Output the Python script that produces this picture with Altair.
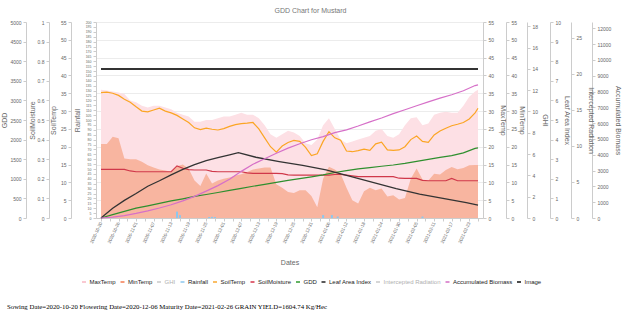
import altair as alt
import pandas as pd

TITLE = "GDD Chart for Mustard"
FOOTER = ("Sowing Date=2020-10-20 Flowering Date=2020-12-06 "
          "Maturity Date=2021-02-26 GRAIN YIELD=1604.74 Kg/Hec")

START, LAST, END = "2020-10-20", "2021-02-25", "2021-02-26"


def fmt(ix):
    return [d.strftime("%Y-%m-%d") for d in ix]


DATES_2D = fmt(pd.date_range(START, LAST, freq="2D")) + [END]
DATES_4D = fmt(pd.date_range(START, LAST, freq="4D")) + [END]
TICK_DATES = fmt(pd.date_range(START, END, freq="3D"))

MAX_TEMP = [36.0, 35.8, 35.5, 35.2, 34.8, 33.0, 32.5, 31.5, 31.0, 31.5,
            31.5, 31.0, 30.5, 29.5, 29.0, 28.5, 27.0, 27.0, 27.5, 27.5,
            28.0, 28.5, 28.5, 29.0, 29.5, 29.0, 29.0, 28.0, 26.0, 23.5,
            22.5, 23.5, 24.5, 24.0, 23.0, 21.0, 20.5, 22.0, 26.0, 28.0,
            25.0, 22.0, 21.0, 21.5, 22.0, 22.5, 23.0, 24.5, 25.0, 23.0,
            22.5, 23.5, 26.0, 28.0, 28.3, 26.0, 26.5, 29.0, 29.5, 29.8,
            29.5, 29.5, 31.5, 34.0, 35.5, 36.0]
MIN_TEMP = [20.8, 20.8, 22.8, 22.4, 16.7, 16.5, 16.5, 15.8, 14.8, 14.2,
            13.6, 13.3, 13.0, 14.5, 15.0, 13.8, 10.5, 9.0, 12.5, 9.7,
            10.5, 11.0, 11.4, 11.9, 12.3, 12.9, 13.6, 13.9, 14.2, 14.2,
            9.5, 8.5, 7.3, 7.0, 7.8, 7.8, 6.2, 3.0, 11.0, 14.4,
            13.6, 12.4, 8.5, 5.0, 4.1, 7.5, 8.5, 7.8, 8.3, 6.0,
            6.4, 5.2, 5.6, 11.0, 13.9, 10.8, 10.5, 12.4, 12.2, 13.5,
            14.3, 13.7, 14.0, 14.8, 14.9, 14.9]
SOIL_TEMP = [35.2, 35.3, 35.0, 34.4, 33.3, 32.5, 31.2, 30.0, 29.8, 30.3,
             30.8, 30.0, 29.5, 28.8, 27.8, 26.8, 25.3, 24.8, 25.2, 24.9,
             24.7, 25.1, 25.7, 26.2, 26.5, 26.6, 26.8, 25.0, 22.5, 20.0,
             18.5, 20.2, 21.2, 21.8, 21.5, 19.8, 17.5, 18.0, 21.5, 24.2,
             22.5, 21.8, 18.8, 18.6, 18.9, 19.3, 19.0, 20.8, 21.3, 19.1,
             19.0, 19.1, 20.0, 22.0, 23.0, 21.5, 21.2, 23.3, 24.4, 25.2,
             25.9, 26.3, 26.8, 27.8, 29.5, 30.8]
SOIL_MOIST = [0.248, 0.248, 0.248, 0.248, 0.248, 0.240, 0.236, 0.236, 0.236, 0.236,
              0.236, 0.236, 0.236, 0.266, 0.254, 0.247, 0.245, 0.245, 0.245, 0.238,
              0.236, 0.236, 0.236, 0.236, 0.236, 0.230, 0.228, 0.228, 0.228, 0.228,
              0.228, 0.226, 0.220, 0.219, 0.219, 0.219, 0.219, 0.219, 0.219, 0.219,
              0.222, 0.222, 0.219, 0.215, 0.211, 0.211, 0.211, 0.211, 0.211, 0.211,
              0.211, 0.203, 0.202, 0.202, 0.202, 0.192, 0.190, 0.190, 0.190, 0.190,
              0.202, 0.190, 0.190, 0.190, 0.190, 0.190]

GDD = [0, 85, 170, 250, 310, 375, 435, 490, 550, 600,
       650, 705, 757, 810, 860, 910, 960, 1005, 1050, 1100,
       1160, 1210, 1255, 1285, 1320, 1352, 1395, 1445, 1495, 1545,
       1590, 1660, 1775, 1790]
BIOMASS = [0, 60, 150, 290, 450, 630, 840, 1080, 1370, 1700,
           2050, 2450, 2950, 3400, 3750, 4100, 4420, 4700, 4950, 5150,
           5400, 5580, 5820, 6080, 6330, 6600, 6850, 7100, 7350, 7580,
           7800, 8050, 8380, 8420]

LAI_DATES = ["2020-10-20", "2020-10-24", "2020-10-28", "2020-11-01", "2020-11-05",
             "2020-11-09", "2020-11-13", "2020-11-17", "2020-11-21", "2020-11-25",
             "2020-11-29", "2020-12-03", "2020-12-06", "2020-12-12", "2020-12-20",
             "2020-12-28", "2021-01-05", "2021-01-13", "2021-01-21", "2021-01-29",
             "2021-02-06", "2021-02-14", "2021-02-22", "2021-02-26"]
LAI = [0.0, 0.5, 0.9, 1.25, 1.62, 1.9, 2.2, 2.48, 2.72, 2.93,
       3.08, 3.22, 3.33, 3.10, 2.88, 2.68, 2.45, 2.14, 1.82, 1.50,
       1.22, 1.0, 0.78, 0.66]

RAIN_DATES = ["2020-11-15", "2020-11-16", "2020-11-26", "2020-11-27", "2020-11-28",
              "2021-01-04", "2021-01-07", "2021-01-09", "2021-02-07"]
RAIN = [6.5, 3.0, 1.0, 1.2, 1.0, 3.0, 3.0, 1.5, 1.5]

IMAGE_DATES = [START, END]
IMAGE = [41.8, 41.8]

SERIES = ["MaxTemp", "MinTemp", "GHI", "Rainfall", "SoilTemp", "SoilMoisture",
          "GDD", "Leaf Area Index", "Intercepted Radiation", "Accumulated Biomass", "Image"]
LEGEND_COLORS = ["#f9b7c3", "#f47b50", "#c8c8c8", "#8cc7ee", "#f8a832", "#d6334a",
                 "#2f9a2f", "#222222", "#c8c8c8", "#d36ec4", "#111111"]

GDD_TICKS = list(range(0, 5001, 500))
SM_TICKS = [0, 0.1, 0.2, 0.3, 0.4, 0.5, 0.6, 0.7, 0.8, 0.9, 1.0]
TEMP_TICKS = list(range(0, 56, 5))
RAIN_TICKS = list(range(0, 201, 5))
GHI_TICKS = list(range(0, 19, 2))
LAI_TICKS = list(range(0, 11))
IR_TICKS = [0, 5, 10, 15, 20, 25]
BIO_TICKS = list(range(0, 12001, 1000))

FONT = "Liberation Sans"
GREY_TXT = "#666666"
GREY_LINE = "#cccccc"


def dt(s):
    t = pd.Timestamp(s)
    return alt.DateTime(year=t.year, month=t.month, date=t.day, utc=True)


XS = alt.Scale(type="utc", domain=[dt(START), dt(END)])
XA = alt.Axis(title="Dates", values=[dt(d) for d in TICK_DATES], format="%Y-%m-%d",
              labelAngle=-65, labelFontSize=4.5, titleY=40, titleFontSize=7,
              labelColor=GREY_TXT, titleColor=GREY_TXT,
              domainColor=GREY_LINE, tickColor=GREY_LINE, tickSize=3, labelPadding=1)
X = alt.X("date:T", scale=XS, axis=XA)


def ys(lo, hi):
    return alt.Scale(domain=[lo, hi], nice=False, zero=True)


def yax(title, orient, offset, values, tx, **kw):
    return alt.Axis(title=title, orient=orient, offset=offset, values=values,
                    titleX=tx, labelColor=GREY_TXT, titleColor=GREY_TXT,
                    domainColor=GREY_LINE, tickColor=GREY_LINE, **kw)


df2 = pd.DataFrame({"date": DATES_2D, "maxt": MAX_TEMP, "mint": MIN_TEMP,
                    "soilt": SOIL_TEMP, "soilm": SOIL_MOIST})
df4 = pd.DataFrame({"date": DATES_4D, "gdd": GDD, "bio": BIOMASS})
dfl = pd.DataFrame({"date": LAI_DATES, "lai": LAI})
dfr = pd.DataFrame({"date": RAIN_DATES, "rain": RAIN})
dfi = pd.DataFrame({"date": IMAGE_DATES, "img": IMAGE})

max_area = alt.Chart(df2).mark_area(color="#fde0e5").encode(
    x=X, y=alt.Y("maxt:Q", scale=ys(0, 55),
                 axis=yax("MaxTemp", "right", 0, TEMP_TICKS, 16, grid=True,
                          gridColor="#ececec")))
min_area = alt.Chart(df2).mark_area(color="#f8b5a0").encode(
    x=X, y=alt.Y("mint:Q", scale=ys(0, 55),
                 axis=yax("MinTemp", "right", 23, TEMP_TICKS, 12)))
rain = alt.Chart(dfr).mark_bar(size=2, color="#8cc7ee").encode(
    x=X, y=alt.Y("rain:Q", scale=ys(0, 200),
                 axis=yax("Rainfall", "left", 0, RAIN_TICKS, -16,
                          labelOverlap=False, labelFontSize=3.5)))
image = alt.Chart(dfi).mark_line(color="#333333", strokeWidth=2).encode(
    x=X, y=alt.Y("img:Q", scale=ys(0, 55), axis=None))
soil_t = alt.Chart(df2).mark_line(color="#fba524", strokeWidth=1.2).encode(
    x=X, y=alt.Y("soilt:Q", scale=ys(0, 55),
                 axis=yax("SoilTemp", "left", 25, TEMP_TICKS, -15)))
soil_m = alt.Chart(df2).mark_line(color="#d0384a", strokeWidth=1.2).encode(
    x=X, y=alt.Y("soilm:Q", scale=ys(0, 1),
                 axis=yax("SoilMoisture", "left", 47, SM_TICKS, -14, format=".1~f")))
gdd = alt.Chart(df4).mark_line(color="#2e8f2e", strokeWidth=1.2).encode(
    x=X, y=alt.Y("gdd:Q", scale=ys(0, 5000),
                 axis=yax("GDD", "left", 70, GDD_TICKS, -19, format="d")))
lai = alt.Chart(dfl).mark_line(color="#333333", strokeWidth=1.3).encode(
    x=X, y=alt.Y("lai:Q", scale=ys(0, 10),
                 axis=yax("Leaf Area Index", "right", 67, LAI_TICKS, 13)))
bio = alt.Chart(df4).mark_line(color="#d670c8", strokeWidth=1.2).encode(
    x=X, y=alt.Y("bio:Q", scale=ys(0, 12400),
                 axis=yax("Accumulated Biomass", "right", 109, BIO_TICKS, 22, format="d")))
ghi = alt.Chart(pd.DataFrame({"v": [0]})).mark_point(opacity=0).encode(
    y=alt.Y("v:Q", scale=ys(0, 18.4), axis=yax("GHI", "right", 44, GHI_TICKS, 14)))
irad = alt.Chart(pd.DataFrame({"v": [0]})).mark_point(opacity=0).encode(
    y=alt.Y("v:Q", scale=ys(0, 27.2),
            axis=yax("Intercepted Radiation", "right", 88, IR_TICKS, 16)))

legend = alt.Chart(pd.DataFrame({"series": SERIES})).transform_filter("false").mark_line().encode(
    color=alt.Color("series:N", scale=alt.Scale(domain=SERIES, range=LEGEND_COLORS),
                    legend=alt.Legend(
                        title=None, orient="none", legendX=-15, legendY=257,
                        direction="horizontal", columns=11, symbolType="stroke",
                        symbolSize=16, symbolStrokeWidth=1.5, labelFontSize=6.0,
                        labelFont=FONT, columnPadding=1.5, labelOffset=2.5, labelLimit=0,
                        labelColor=alt.ExprRef(
                            "indexof(['GHI','Intercepted Radiation'], datum.label) >= 0 ? '#b0b0b0' : '#222222'"))))

footer = alt.Chart(pd.DataFrame({"t": [FOOTER]})).mark_text(
    align="left", baseline="middle", font="Liberation Serif", fontSize=6.8,
    color="#000000").encode(text="t:N", x=alt.value(-89), y=alt.value(285))

chart = alt.layer(
    max_area, min_area, rain, image, soil_t, soil_m, gdd, lai, bio, ghi, irad,
    legend, footer
).resolve_scale(y="independent").properties(
    width=387, height=196,
    autosize=alt.AutoSizeParams(type="none"),
    padding={"left": 96, "top": 22, "right": 141, "bottom": 111},
    title=alt.TitleParams(TITLE, fontSize=7, color="#777777", font=FONT,
                          fontWeight="normal", anchor="middle", frame="bounds",
                          offset=6),
).configure_view(strokeWidth=0).configure_axis(
    labelColor=GREY_TXT, labelFont=FONT, labelFontSize=5, titleColor=GREY_TXT,
    titleFont=FONT, titleFontSize=7, titleFontWeight="normal", domainColor=GREY_LINE,
    tickColor=GREY_LINE, tickSize=3, labelPadding=2, grid=False
)

chart.save("out.html", embed_options={"renderer": "svg", "actions": False})
